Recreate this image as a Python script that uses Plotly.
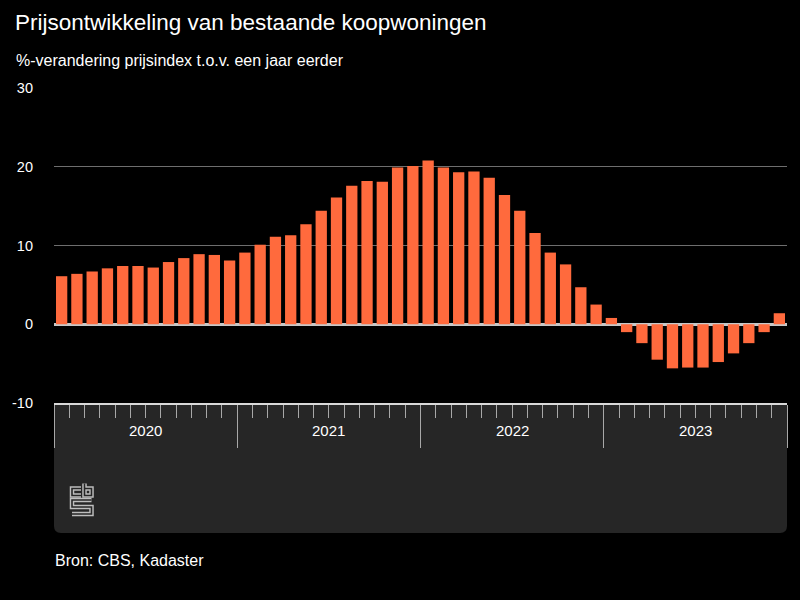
import plotly.graph_objects as go

# ---- data ----
months = list(range(48))  # Jan 2020 .. Dec 2023
values = [
    6.1, 6.4, 6.7, 7.1, 7.4, 7.4, 7.2, 7.9, 8.4, 8.9, 8.8, 8.1,      # 2020
    9.1, 10.1, 11.1, 11.3, 12.7, 14.4, 16.1, 17.6, 18.2, 18.1, 19.9, 20.1,  # 2021
    20.8, 19.9, 19.3, 19.4, 18.6, 16.4, 14.4, 11.6, 9.1, 7.6, 4.7, 2.5,   # 2022
    0.8, -1.0, -2.4, -4.5, -5.6, -5.5, -5.5, -4.8, -3.7, -2.4, -1.0, 1.4,  # 2023
]
years = ["2020", "2021", "2022", "2023"]
year_centers = [5.5, 17.5, 29.5, 41.5]
year_bounds = [-0.5, 11.5, 23.5, 35.5, 47.5]
y_ticks = [-10, 0, 10, 20, 30]
y_tick_text = ["-10", "0", "10", "20", "30"]

title = "Prijsontwikkeling van bestaande koopwoningen"
subtitle = "%-verandering prijsindex t.o.v. een jaar eerder"
source = "Bron: CBS, Kadaster"

FONT = "Liberation Sans, Arial, sans-serif"
W, H = 800, 600
L, R, T, B = 54, 13, 88, 197
PW, PH = W - L - R, H - T - B


def px(x):
    return (x - L) / PW


def py(y):
    return (H - B - y) / PH


fig = go.Figure()
fig.add_trace(go.Bar(
    x=months, y=values,
    marker=dict(color="#ff6a3d", line=dict(width=0)),
    hoverinfo="x+y",
))

shapes = []
# dark panel under the axis, rounded bottom corners
x0, x1, y0, y1 = px(54), px(787), py(403), py(533)
rx, ry = 7 / PW, 7 / PH
panel_path = (
    f"M {x0},{y0} L {x1},{y0} L {x1},{y1 + ry} "
    f"Q {x1},{y1} {x1 - rx},{y1} L {x0 + rx},{y1} "
    f"Q {x0},{y1} {x0},{y1 + ry} Z"
)
shapes.append(dict(type="path", path=panel_path, xref="paper", yref="paper",
                   fillcolor="#262626", line=dict(width=0), layer="below"))

# CBS logo (outlined strokes)
def pth(points):
    return "M " + " L ".join(f"{px(a)},{py(b)}" for a, b in points)

logo_paths = [
    [(81, 488.5), (72, 488.5), (72, 495.5), (81, 495.5)],           # c
    [(84.5, 483.5), (84.5, 495.5), (91.5, 495.5), (91.5, 488.5), (84.5, 488.5)],  # b
    [(91.5, 500), (72, 500), (72, 507), (91.5, 507), (91.5, 514), (72, 514)],      # s
]
for p in logo_paths:
    shapes.append(dict(type="path", path=pth(p), xref="paper", yref="paper",
                       line=dict(color="#bdbdbd", width=4.5)))
for p in logo_paths:
    shapes.append(dict(type="path", path=pth(p), xref="paper", yref="paper",
                       line=dict(color="#262626", width=1.6)))

annotations = [
    dict(text=title, x=px(13), y=py(22), xref="paper", yref="paper",
         xanchor="left", yanchor="middle", showarrow=False,
         font=dict(family=FONT, size=22.5, color="#ffffff")),
    dict(text=subtitle, x=px(14), y=py(60), xref="paper", yref="paper",
         xanchor="left", yanchor="middle", showarrow=False,
         font=dict(family=FONT, size=16, color="#ffffff")),
    dict(text=source, x=px(53), y=py(560), xref="paper", yref="paper",
         xanchor="left", yanchor="middle", showarrow=False,
         font=dict(family=FONT, size=16, color="#ffffff")),
]
for yr, c in zip(years, year_centers):
    annotations.append(dict(text=yr, x=c, y=py(431), xref="x", yref="paper",
                            xanchor="center", yanchor="middle", showarrow=False,
                            font=dict(family=FONT, size=15, color="#ffffff")))

fig.update_layout(
    width=W, height=H,
    margin=dict(l=L, r=R, t=T, b=B, pad=0),
    paper_bgcolor="#000000", plot_bgcolor="#000000",
    showlegend=False,
    bargap=0.26,
    shapes=shapes,
    annotations=annotations,
    xaxis=dict(
        range=[-0.5, 47.5], showgrid=False, zeroline=False,
        tickmode="array", tickvals=year_bounds, showticklabels=False,
        ticks="outside", ticklen=43, tickcolor="#a8a8a8", tickwidth=1,
        showline=True, linecolor="#d8d8d8", linewidth=2,
        minor=dict(tick0=-0.5, dtick=1, ticks="outside", ticklen=13,
                   tickcolor="#a8a8a8", tickwidth=1, showgrid=False),
        fixedrange=True,
    ),
    yaxis=dict(
        range=[-10, 30], tickmode="array", tickvals=y_ticks, ticktext=y_tick_text,
        showgrid=True, gridcolor="#6e6e6e", gridwidth=1,
        zeroline=True, zerolinecolor="#c8c8c8", zerolinewidth=3,
        ticks="", ticklabelstandoff=20,
        tickfont=dict(family=FONT, size=14.5, color="#ffffff"),
        fixedrange=True,
    ),
)

fig.write_html(
    "out.html",
    config={"displayModeBar": False},
    post_script="document.body.style.margin='0';document.body.style.background='#000';",
)
